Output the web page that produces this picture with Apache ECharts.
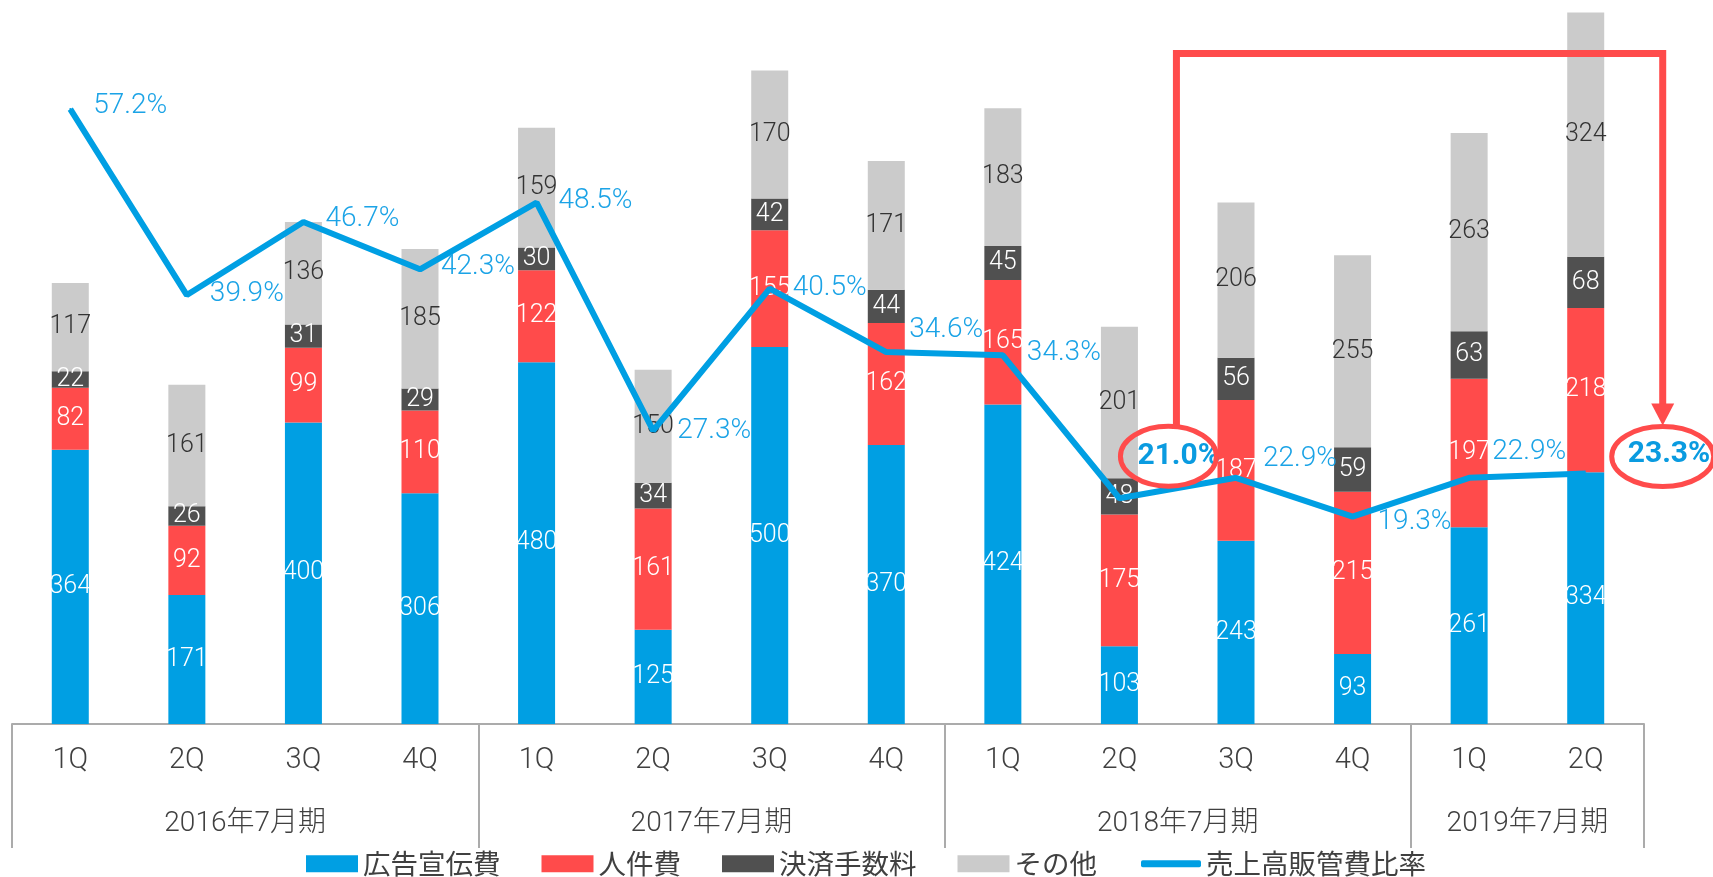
<!DOCTYPE html>
<html>
<head>
<meta charset="utf-8">
<title>販管費推移</title>
<script src="https://cdn.jsdelivr.net/npm/echarts@6/dist/echarts.min.js"></script>
<style>
  html, body { margin: 0; padding: 0; background: #fff; }
  #chart { width: 1713px; height: 877px; }
</style>
</head>
<body>
<div id="chart"></div>
<script>
// quarters / fiscal years
var quarters = ['1Q', '2Q', '3Q', '4Q', '1Q', '2Q', '3Q', '4Q', '1Q', '2Q', '3Q', '4Q', '1Q', '2Q'];
var fiscalYears = ['2016年7月期', '2017年7月期', '2018年7月期', '2019年7月期'];
var quartersPerYear = [4, 4, 4, 2];

// 販管費内訳 (百万円)
var adCost = [364, 171, 400, 306, 480, 125, 500, 370, 424, 103, 243, 93, 261, 334];
var staffCost = [82, 92, 99, 110, 122, 161, 155, 162, 165, 175, 187, 215, 197, 218];
var paymentFee = [22, 26, 31, 29, 30, 34, 42, 44, 45, 48, 56, 59, 63, 68];
var otherCost = [117, 161, 136, 185, 159, 150, 170, 171, 183, 201, 206, 255, 263, 324];

// 売上高販管費比率 (%)
var sgaRatio = [57.2, 39.9, 46.7, 42.3, 48.5, 27.3, 40.5, 34.6, 34.3, 21.0, 22.9, 19.3, 22.9, 23.3];
var highlighted = [9, 13];

// label nudges for the ratio line (px, left edge / middle)
var ratioLabelOffset = [[23, -3], [23, -1], [22, -3], [21, -2], [22, -2], [24, 0], [23, -1], [23, -22],
  [24, -2], [18, -42], [27, -19], [25, 5], [23, -26], [42, -19]];

var BLUE = '#009FE3', RED = '#FF4B4B', DARK = '#505050', LIGHT = '#CBCBCB';
var NUM_FONT = "Roboto, 'Noto Sans CJK JP', sans-serif";
var JP_FONT = "'Noto Sans CJK JP', sans-serif";

// second category axis: slot boundaries, used for the fiscal year rows
var boundaries = [0], groupCenters = [], acc = 0;
quartersPerYear.forEach(function (n) {
  groupCenters.push(acc + n / 2);
  acc += n;
  boundaries.push(acc);
});
var yearSlots = [];
for (var i = 0; i <= quarters.length; i++) {
  var g = groupCenters.indexOf(i);
  yearSlots.push(g >= 0 ? fiscalYears[g] : '');
}

function barSeries(name, data, color, labelColor) {
  return {
    name: name,
    type: 'bar',
    stack: 'sga',
    barWidth: 37,
    data: data,
    itemStyle: { color: color },
    label: {
      show: true,
      position: 'inside',
      color: labelColor,
      fontFamily: NUM_FONT,
      fontWeight: 300,
      fontSize: 25
    }
  };
}

var chart = echarts.init(document.getElementById('chart'));

var option = {
  animation: false,
  backgroundColor: '#fff',
  grid: { left: 12, right: 69, top: 0, bottom: 153 },
  legend: [{
    left: 301,
    top: 845,
    itemWidth: 52,
    itemHeight: 17,
    itemGap: 41,
    icon: 'rect',
    textStyle: { fontFamily: JP_FONT, fontSize: 27.5, color: '#404040' },
    data: ['広告宣伝費', '人件費', '決済手数料', 'その他']
  }, {
    left: 1136,
    top: 845,
    itemWidth: 60,
    itemHeight: 7,
    icon: 'roundRect',
    textStyle: { fontFamily: JP_FONT, fontSize: 27.5, color: '#404040' },
    data: ['売上高販管費比率']
  }],
  xAxis: [{
    type: 'category',
    data: quarters,
    axisLine: { lineStyle: { color: '#ABABAB', width: 2 } },
    axisTick: { show: false },
    axisLabel: { margin: 22, color: '#404040', fontFamily: NUM_FONT, fontWeight: 300, fontSize: 29 }
  }, {
    type: 'category',
    position: 'bottom',
    boundaryGap: false,
    data: yearSlots,
    axisLine: { show: false },
    axisTick: {
      show: true,
      length: 124,
      interval: function (idx) { return boundaries.indexOf(idx) >= 0; },
      lineStyle: { color: '#ABABAB', width: 2 }
    },
    axisLabel: {
      margin: 86,
      color: '#404040',
      fontFamily: NUM_FONT,
      fontWeight: 300,
      fontSize: 28,
      interval: function (idx) { return groupCenters.indexOf(idx) >= 0; }
    }
  }],
  yAxis: [{
    type: 'value', min: 0, max: 960.5, show: false, splitLine: { show: false }
  }, {
    type: 'value', min: 0, max: 67.35, show: false, splitLine: { show: false }
  }],
  series: [
    barSeries('広告宣伝費', adCost, BLUE, '#fff'),
    barSeries('人件費', staffCost, RED, '#fff'),
    barSeries('決済手数料', paymentFee, DARK, '#fff'),
    barSeries('その他', otherCost, LIGHT, '#333'),
    {
      name: '売上高販管費比率',
      type: 'line',
      yAxisIndex: 1,
      z: 5,
      symbol: 'circle',
      symbolSize: 2,
      lineStyle: { color: BLUE, width: 6 },
      itemStyle: { color: BLUE },
      data: sgaRatio.map(function (v, i) {
        var hl = highlighted.indexOf(i) >= 0;
        return {
          value: v,
          label: {
            offset: [ratioLabelOffset[i][0] - 1, ratioLabelOffset[i][1]],
            fontWeight: hl ? 'bold' : 300,
            fontSize: hl ? 30 : 28,
            color: hl ? '#0A9BE0' : '#1BA3E6'
          }
        };
      }),
      label: {
        show: true,
        position: 'right',
        distance: 0,
        align: 'left',
        verticalAlign: 'middle',
        fontFamily: NUM_FONT,
        formatter: function (p) { return p.value.toFixed(1) + '%'; }
      }
    }
  ]
};
chart.setOption(option);

// red callout: 21.0% -> 23.3%
var from = chart.convertToPixel({ xAxisIndex: 0, yAxisIndex: 1 }, [highlighted[0], sgaRatio[highlighted[0]]]);
var to = chart.convertToPixel({ xAxisIndex: 0, yAxisIndex: 1 }, [highlighted[1], sgaRatio[highlighted[1]]]);
var c1 = [from[0] + 49, from[1] - 42];
var c2 = [to[0] + 77, to[1] - 17];
var topY = 53.5;
chart.setOption({
  graphic: [
    { type: 'ellipse', z: 100, shape: { cx: c1[0], cy: c1[1], rx: 48, ry: 30 },
      style: { fill: 'none', stroke: RED, lineWidth: 5 } },
    { type: 'ellipse', z: 100, shape: { cx: c2[0], cy: c2[1], rx: 51, ry: 30 },
      style: { fill: 'none', stroke: RED, lineWidth: 5 } },
    { type: 'polyline', z: 100,
      shape: { points: [[c1[0] + 8, c1[1] - 30], [c1[0] + 8, topY], [c2[0], topY], [c2[0], c2[1] - 52]] },
      style: { fill: 'none', stroke: RED, lineWidth: 7, lineJoin: 'miter' } },
    { type: 'polygon', z: 100,
      shape: { points: [[c2[0] - 11.5, c2[1] - 53], [c2[0] + 11.5, c2[1] - 53], [c2[0], c2[1] - 31]] },
      style: { fill: RED } }
  ]
});
</script>
</body>
</html>
